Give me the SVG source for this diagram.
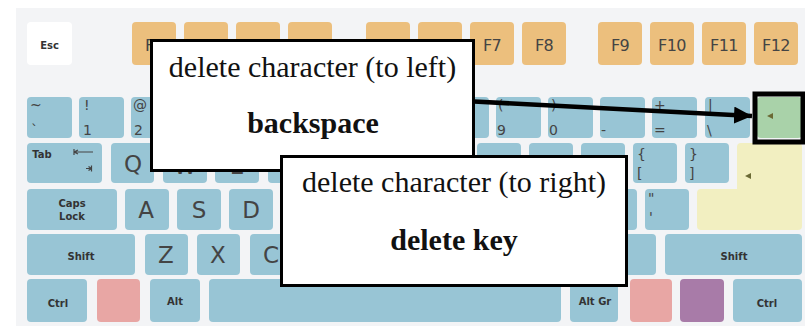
<svg xmlns="http://www.w3.org/2000/svg" width="805" height="326" viewBox="0 0 805 326">
<defs>
<style>
.k{fill:#98c5d5}
.f{fill:#ecbf7d}
.w{fill:#ffffff}
.g{fill:#a9d2a9}
.y{fill:#f2efc1}
.p{fill:#e8a6a4}
.u{fill:#a87ba8}
.fl{font-family:"DejaVu Sans",sans-serif;font-size:16px;fill:#444;text-anchor:middle;letter-spacing:-0.6px}
.sm{font-family:"DejaVu Sans",sans-serif;font-size:10px;font-weight:bold;fill:#333;text-anchor:middle}
.lg{font-family:"DejaVu Sans",sans-serif;font-size:23px;fill:#444;text-anchor:middle}
.ld{font-family:"DejaVu Sans",sans-serif;font-size:14px;fill:#444}
.box{fill:#ffffff;stroke:#000;stroke-width:3}
.bt{font-family:"Liberation Serif","Times New Roman",serif;font-size:30px;fill:#111;text-anchor:middle}
.bb{font-family:"Liberation Serif","Times New Roman",serif;font-size:30px;font-weight:bold;fill:#111;text-anchor:middle}
.tri{fill:#6b6a35}
</style>
<marker id="ah" markerUnits="userSpaceOnUse" markerWidth="20" markerHeight="18" refX="18" refY="8.5" orient="auto">
<path d="M0,0 L18,8.5 L0,17 Z" fill="#000"/>
</marker>
</defs>
<rect x="16" y="8" width="789" height="318" fill="#f3f4f6"/>
<g id="keyboard">
<g id="frow">
<rect class="w" x="27" y="22" width="45" height="43" rx="4"/>
<text class="sm" x="49.5" y="49">Esc</text>
<rect class="f" x="132" y="22" width="44" height="43" rx="4"/>
<rect class="f" x="184" y="22" width="44" height="43" rx="4"/>
<rect class="f" x="236" y="22" width="44" height="43" rx="4"/>
<rect class="f" x="288" y="22" width="44" height="43" rx="4"/>
<rect class="f" x="366" y="22" width="44" height="43" rx="4"/>
<rect class="f" x="418" y="22" width="44" height="43" rx="4"/>
<rect class="f" x="470" y="22" width="44" height="43" rx="4"/>
<rect class="f" x="522" y="22" width="44" height="43" rx="4"/>
<rect class="f" x="598" y="22" width="44" height="43" rx="4"/>
<rect class="f" x="650" y="22" width="44" height="43" rx="4"/>
<rect class="f" x="702" y="22" width="44" height="43" rx="4"/>
<rect class="f" x="754" y="22" width="44" height="43" rx="4"/>
<text class="fl" x="154" y="50.5">F1</text>
<text class="fl" x="492" y="50.5">F7</text>
<text class="fl" x="544" y="50.5">F8</text>
<text class="fl" x="620" y="50.5">F9</text>
<text class="fl" x="672" y="50.5">F10</text>
<text class="fl" x="724" y="50.5">F11</text>
<text class="fl" x="776" y="50.5">F12</text>
</g>
<g id="numrow">
<rect class="k" x="27" y="97" width="45" height="41" rx="4"/>
<rect class="k" x="79" y="97" width="45" height="41" rx="4"/>
<rect class="k" x="131" y="97" width="45" height="41" rx="4"/>
<rect class="k" x="183" y="97" width="45" height="41" rx="4"/>
<rect class="k" x="236" y="97" width="45" height="41" rx="4"/>
<rect class="k" x="288" y="97" width="45" height="41" rx="4"/>
<rect class="k" x="340" y="97" width="45" height="41" rx="4"/>
<rect class="k" x="392" y="97" width="45" height="41" rx="4"/>
<rect class="k" x="444" y="97" width="45" height="41" rx="4"/>
<rect class="k" x="496" y="97" width="45" height="41" rx="4"/>
<rect class="k" x="548" y="97" width="45" height="41" rx="4"/>
<rect class="k" x="600" y="97" width="45" height="41" rx="4"/>
<rect class="k" x="652" y="97" width="45" height="41" rx="4"/>
<rect class="k" x="705" y="97" width="45" height="41" rx="4"/>
<rect class="g" x="757" y="97" width="45" height="41" rx="4"/>
<path class="tri" d="M767,116 L773,113 L773,119 Z"/>
<text class="ld" x="30" y="110">~</text>
<text class="ld" x="31" y="135">`</text>
<text class="ld" x="84" y="110">!</text>
<text class="ld" x="83" y="135">1</text>
<text class="ld" x="133" y="110">@</text>
<text class="ld" x="134" y="135">2</text>
<text class="ld" x="498" y="110">(</text>
<text class="ld" x="497" y="135">9</text>
<text class="ld" x="551" y="110">)</text>
<text class="ld" x="549" y="135">0</text>
<text class="ld" x="601" y="135">-</text>
<text class="ld" x="654" y="110">+</text>
<text class="ld" x="654" y="135">=</text>
<text class="ld" x="708" y="110">|</text>
<text class="ld" x="707" y="135">\</text>
</g>
<g id="tabrow">
<rect class="k" x="27" y="143" width="75" height="40" rx="4"/>
<text class="sm" x="42" y="158">Tab</text>
<path d="M74,149 V155 M74,152 H93 M74,152 L78,150 M74,152 L78,154 M91.5,165.5 V171.5 M86,168.5 H91.5 M91.5,168.5 L88.5,166.5 M91.5,168.5 L88.5,170.5" stroke="#444" stroke-width="1.2" fill="none"/>
<rect class="k" x="111" y="143" width="43" height="40" rx="4"/>
<rect class="k" x="163" y="143" width="44" height="40" rx="4"/>
<rect class="k" x="215" y="143" width="44" height="40" rx="4"/>
<rect class="k" x="268" y="143" width="44" height="40" rx="4"/>
<rect class="k" x="320" y="143" width="44" height="40" rx="4"/>
<rect class="k" x="372" y="143" width="44" height="40" rx="4"/>
<rect class="k" x="424" y="143" width="44" height="40" rx="4"/>
<rect class="k" x="477" y="143" width="44" height="40" rx="4"/>
<rect class="k" x="529" y="143" width="44" height="40" rx="4"/>
<rect class="k" x="581" y="143" width="44" height="40" rx="4"/>
<rect class="k" x="633" y="143" width="44" height="40" rx="4"/>
<rect class="k" x="685" y="143" width="44" height="40" rx="4"/>
<path class="y" d="M741,143 H798 Q802,143 802,147 V226 Q802,230 798,230 H701 Q697,230 697,226 V193 Q697,189 701,189 H737 V147 Q737,143 741,143 Z"/>
<path class="tri" d="M745,176 L751,173 L751,179 Z"/>
<text class="lg" x="133" y="172">Q</text>
<text class="lg" x="185" y="173.5">W</text>
<text class="lg" x="237" y="173.5">E</text>
<text class="ld" x="637" y="159">{</text>
<text class="ld" x="637" y="178">[</text>
<text class="ld" x="689" y="159">}</text>
<text class="ld" x="689" y="178">]</text>
</g>
<g id="capsrow">
<rect class="k" x="27" y="189" width="90" height="41" rx="4"/>
<text class="sm" x="72" y="207">Caps</text>
<text class="sm" x="72" y="219.5">Lock</text>
<rect class="k" x="125" y="189" width="44" height="41" rx="4"/>
<rect class="k" x="177" y="189" width="44" height="41" rx="4"/>
<rect class="k" x="229" y="189" width="44" height="41" rx="4"/>
<rect class="k" x="281" y="189" width="44" height="41" rx="4"/>
<rect class="k" x="333" y="189" width="44" height="41" rx="4"/>
<rect class="k" x="385" y="189" width="44" height="41" rx="4"/>
<rect class="k" x="437" y="189" width="44" height="41" rx="4"/>
<rect class="k" x="489" y="189" width="44" height="41" rx="4"/>
<rect class="k" x="541" y="189" width="44" height="41" rx="4"/>
<rect class="k" x="593" y="189" width="44" height="41" rx="4"/>
<rect class="k" x="645" y="189" width="44" height="41" rx="4"/>
<text class="lg" x="146" y="218">A</text>
<text class="lg" x="199" y="218">S</text>
<text class="lg" x="251" y="218">D</text>
<text class="ld" x="648" y="203">"</text>
<text class="ld" x="649" y="222">'</text>
</g>
<g id="shiftrow">
<rect class="k" x="27" y="234" width="108" height="41" rx="4"/>
<text class="sm" x="81" y="259.5">Shift</text>
<rect class="k" x="145" y="234" width="43" height="41" rx="4"/>
<rect class="k" x="197" y="234" width="43" height="41" rx="4"/>
<rect class="k" x="250" y="234" width="43" height="41" rx="4"/>
<rect class="k" x="302" y="234" width="43" height="41" rx="4"/>
<rect class="k" x="354" y="234" width="43" height="41" rx="4"/>
<rect class="k" x="406" y="234" width="43" height="41" rx="4"/>
<rect class="k" x="458" y="234" width="43" height="41" rx="4"/>
<rect class="k" x="510" y="234" width="43" height="41" rx="4"/>
<rect class="k" x="562" y="234" width="43" height="41" rx="4"/>
<rect class="k" x="613" y="234" width="43" height="41" rx="4"/>
<rect class="k" x="665" y="234" width="137" height="41" rx="4"/>
<text class="sm" x="734" y="260">Shift</text>
<text class="lg" x="166" y="263">Z</text>
<text class="lg" x="218" y="263">X</text>
<text class="lg" x="271" y="263">C</text>
</g>
<g id="bottomrow">
<rect class="k" x="27" y="279" width="60" height="43" rx="4"/>
<text class="sm" x="58" y="306.5">Ctrl</text>
<rect class="p" x="97" y="279" width="43" height="43" rx="4"/>
<rect class="k" x="150" y="279" width="50" height="43" rx="4"/>
<text class="sm" x="175" y="305">Alt</text>
<rect class="k" x="209" y="279" width="352" height="43" rx="4"/>
<rect class="k" x="570" y="279" width="48" height="43" rx="4"/>
<text class="sm" x="595" y="305">Alt Gr</text>
<rect class="p" x="630" y="279" width="42" height="43" rx="4"/>
<rect class="u" x="680" y="279" width="44" height="43" rx="4"/>
<rect class="k" x="733" y="279" width="69" height="43" rx="4"/>
<text class="sm" x="767" y="307">Ctrl</text>
</g>
</g>
<g id="highlight">
<rect x="755" y="94" width="48" height="48" fill="none" stroke="#000" stroke-width="5"/>
</g>
<g id="connectors">
<line x1="474" y1="101.5" x2="752" y2="116" stroke="#000" stroke-width="4.5" marker-end="url(#ah)"/>
</g>
<g id="backspace-note">
<rect class="box" x="151.5" y="40.5" width="322" height="130"/>
<text class="bt" x="312.5" y="77">delete character (to left)</text>
<text class="bb" x="313" y="133">backspace</text>
</g>
<g id="delete-note">
<rect class="box" x="281.5" y="156.5" width="345" height="129"/>
<text class="bt" x="454" y="192">delete character (to right)</text>
<text class="bb" x="454" y="250">delete key</text>
</g>
</svg>
